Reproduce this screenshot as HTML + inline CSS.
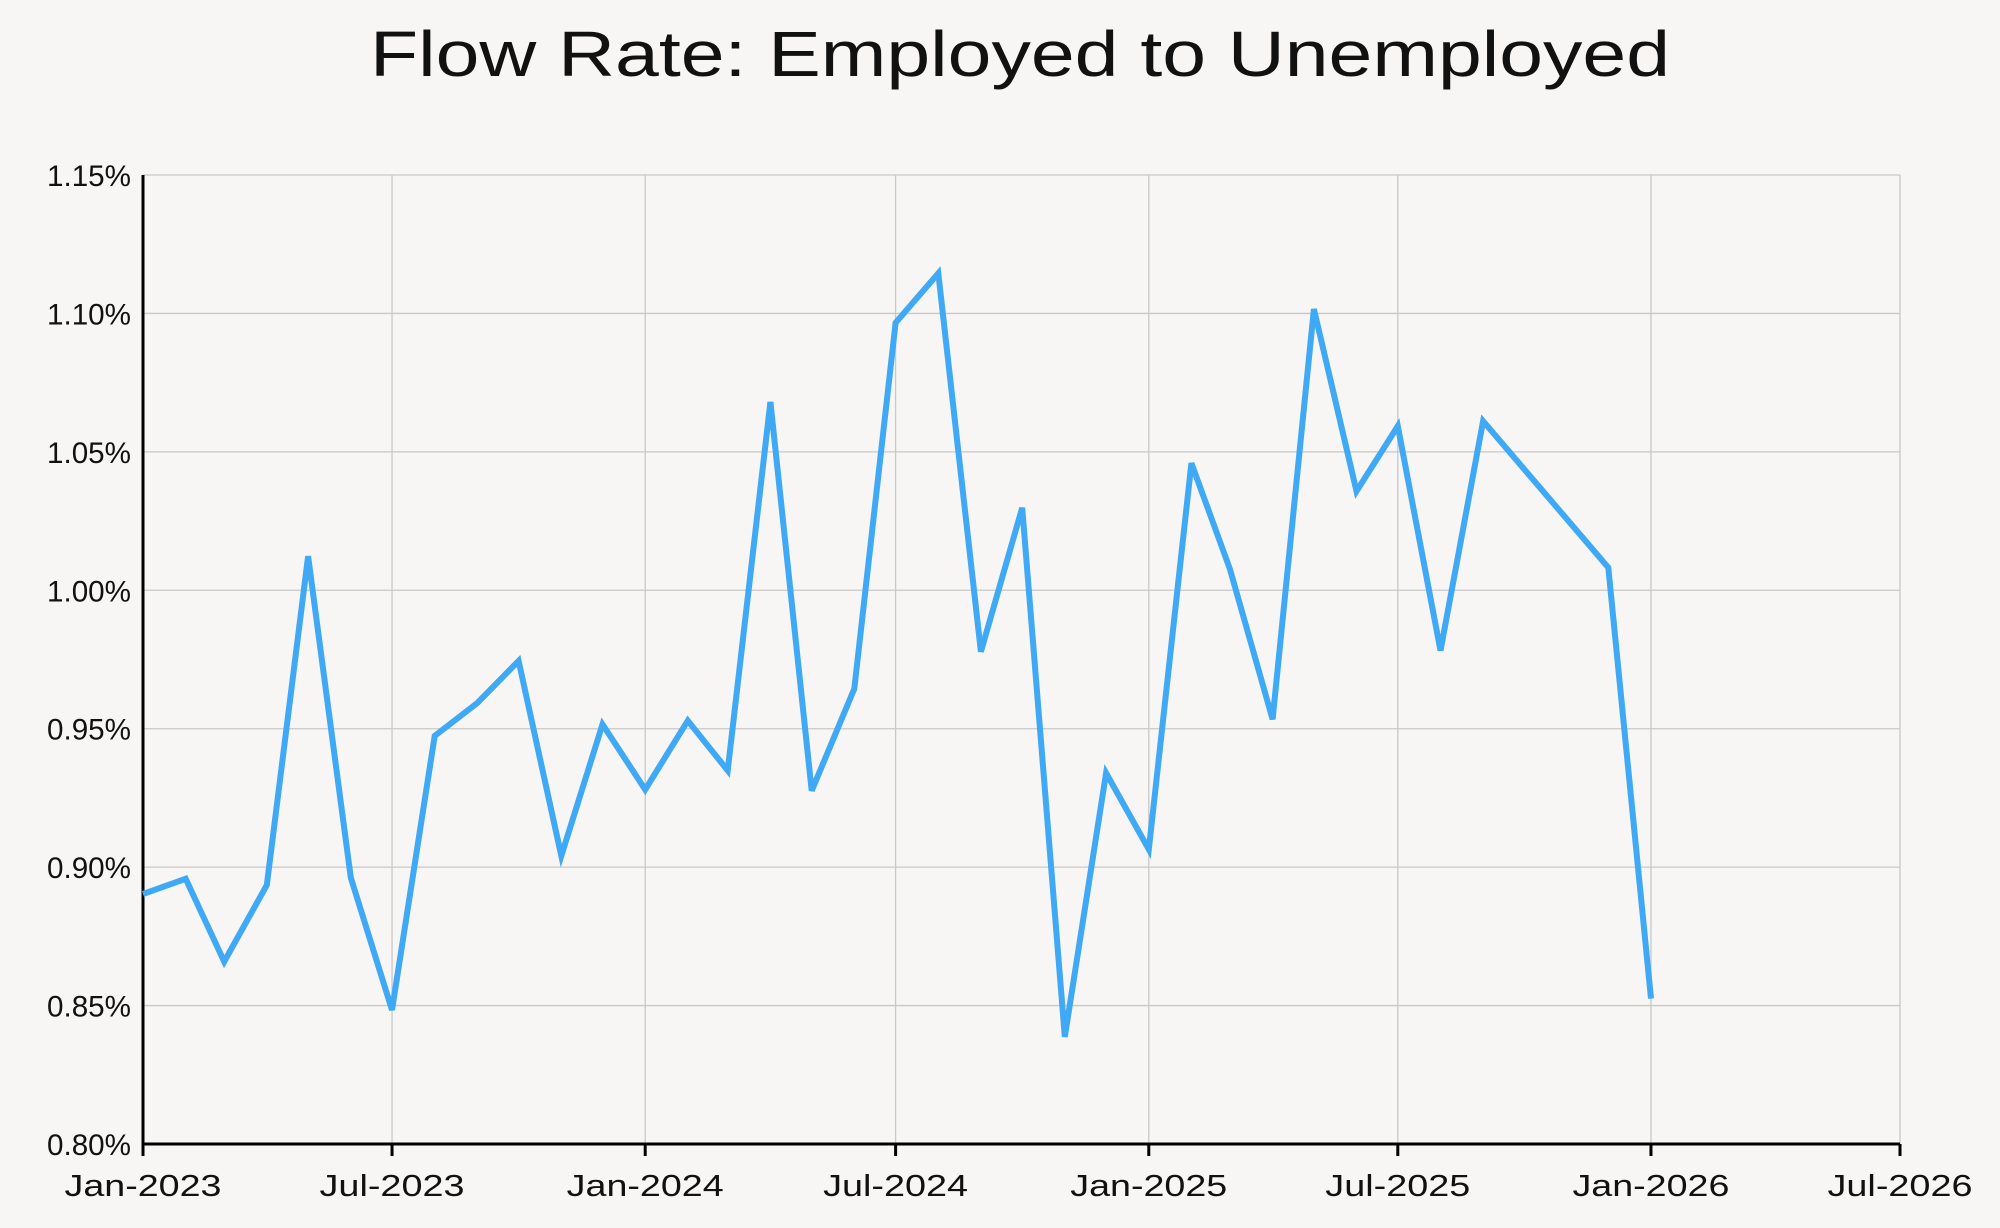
<!DOCTYPE html>
<html><head><meta charset="utf-8"><style>
html,body{margin:0;padding:0;background:#f7f6f4;}
svg{display:block;font-family:"Liberation Sans",sans-serif;}
</style></head><body>
<svg id="c" width="2000" height="1228" viewBox="0 0 2000 1228" xmlns="http://www.w3.org/2000/svg">
<rect width="2000" height="1228" fill="#f7f6f4"/>
<text x="1020" y="76" font-size="64" text-anchor="middle" fill="#111" textLength="1300" lengthAdjust="spacingAndGlyphs">Flow Rate: Employed to Unemployed</text>
<g id="g"></g>
</svg>
<script>
const g=document.getElementById('g');const NS='http://www.w3.org/2000/svg';
function el(t,a,txt){const e=document.createElementNS(NS,t);for(const k in a)e.setAttribute(k,a[k]);if(txt!==undefined)e.textContent=txt;g.appendChild(e);return e;}
const x0=143,x1=1900,y0=1144,y1=175;
const d0=Date.UTC(2023,0,1),d1=Date.UTC(2026,6,1);
const X=(y,m)=>x0+(Date.UTC(y,m,1)-d0)/(d1-d0)*(x1-x0);
const Y=v=>y0-(v-0.80)/0.35*(y0-y1);
for(let i=0;i<=7;i++){const v=0.80+i*0.05,y=Y(v);
 if(i>0)el('line',{x1:x0,x2:x1,y1:y,y2:y,stroke:'#c8c8c8','stroke-width':1.3});
 el('text',{x:x0-12,y:y+11,'font-size':30,'text-anchor':'end',fill:'#111',textLength:84,lengthAdjust:'spacingAndGlyphs'},v.toFixed(2)+'%');}
const ticks=[[2023,0,'Jan-2023'],[2023,6,'Jul-2023'],[2024,0,'Jan-2024'],[2024,6,'Jul-2024'],[2025,0,'Jan-2025'],[2025,6,'Jul-2025'],[2026,0,'Jan-2026'],[2026,6,'Jul-2026']];
ticks.forEach(([yy,m,l],i)=>{const x=X(yy,m);
 if(i>0)el('line',{x1:x,x2:x,y1:y1,y2:y0,stroke:'#c8c8c8','stroke-width':1.3});
 el('line',{x1:x,x2:x,y1:y0,y2:y0+12,stroke:'#000','stroke-width':3});
 el('text',{x:x,y:y0+52,'font-size':31,'text-anchor':'middle',fill:'#111',textLength:(l.startsWith('Jan')?157:145),lengthAdjust:'spacingAndGlyphs'},l);});
el('line',{x1:x0,x2:x0,y1:y1,y2:y0+12,stroke:'#000','stroke-width':3});
el('line',{x1:x0,x2:x1,y1:y0,y2:y0,stroke:'#000','stroke-width':3});
const data=[[2023,0,0.8903],[2023,1,0.8958],[2023,2,0.8659],[2023,3,0.8935],[2023,4,1.0123],[2023,5,0.8962],[2023,6,0.8484],[2023,7,0.9474],[2023,8,0.9593],[2023,9,0.9745],[2023,10,0.9041],[2023,11,0.9516],
[2024,0,0.928],[2024,1,0.9529],[2024,2,0.9349],[2024,3,1.068],[2024,4,0.9276],[2024,5,0.9644],[2024,6,1.0966],[2024,7,1.1145],[2024,8,0.9778],[2024,9,1.0298],[2024,10,0.8387],[2024,11,0.934],
[2025,0,0.9064],[2025,1,1.0459],[2025,2,1.0077],[2025,3,0.9534],[2025,4,1.1016],[2025,5,1.0358],[2025,6,1.0593],[2025,7,0.9782],[2025,8,1.0611],[2025,11,1.0082],[2026,0,0.8525]];
el('polyline',{points:data.map(([yy,m,v])=>X(yy,m).toFixed(1)+','+Y(v).toFixed(1)).join(' '),fill:'none',stroke:'#3fa9f5','stroke-width':6,'stroke-linejoin':'miter'});
</script>
</body></html>
